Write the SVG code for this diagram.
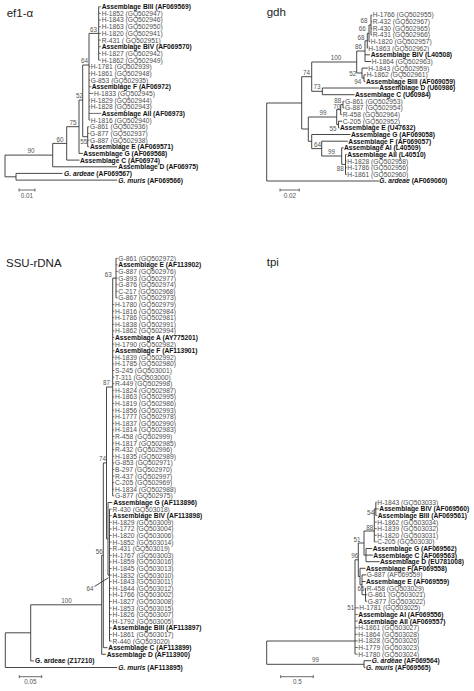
<svg xmlns="http://www.w3.org/2000/svg" width="474" height="691" viewBox="0 0 474 691">
<style>
text{font-family:"Liberation Sans",Arial,sans-serif;font-size:6.7px;fill:#4d4d4d}
.b{font-weight:bold;fill:#111}
.n{font-size:6.3px;fill:#555}
.e{text-anchor:end}
.m{text-anchor:middle}
.ttl{font-size:11.5px;fill:#222}
.c{fill:none;stroke:#333;stroke-width:0.9}
.k{fill:none;stroke:#444;stroke-width:0.8}
</style>
<rect width="474" height="691" fill="#fff"/>

<!-- ef1-alpha -->
<g id="ef1a">
<text id="t-ef1a" class="ttl" x="6.7" y="16.5">ef1-α</text>
<g id="ef1a-connectors">
<path class="c" d="M98.7,6.7V60.1M89,33.4H98.7M89,33.4V120.1M82.7,65H89M82.7,65V136.7M82.7,136.7H87.7M87.7,126.8V146.8M79,100H82.7M79,100V153.4M79,153.4H82.8M66.7,126.7H79M66.7,126.7V160.1M66.7,160.1H79.5M52.7,143.4H66.7M52.7,143.4V166.8M52.7,166.8H117M5,155.1H52.7M5,155.1V176.8M5,176.8H16M16,173.4V180.1M16,173.4H62.5M16,180.1H117"/>
<path class="k" d="M98.7,6.7H100.8M98.7,13.4H100.8M98.7,20H100.8M98.7,26.7H100.8M98.7,33.4H100.8M98.7,40.1H100.8M98.7,46.7H100.8M98.7,53.4H100.8M98.7,60.1H100.8M89,66.7H90.2M89,73.4H90.2M89,80.1H90.2M89,86.7H91.2M89,93.4H93.5M89,100.1H90.2M89,106.7H90.2M89,113.4H101M89,120.1H90.2M87.7,126.8H89.4M87.7,133.4H89.4M87.7,140.1H89.4M87.7,146.8H89.4"/>
<path class="k" d="M19,190H35M19,188.5V191.5M35,188.5V191.5"/>
</g>
<g id="ef1a-support">
<text class="n m" x="93.5" y="31.8">63</text>
<text class="n m" x="84.5" y="62.7">64</text>
<text class="n m" x="79.5" y="97.8">52</text>
<text class="n m" x="73" y="124.5">75</text>
<text class="n e" x="87.2" y="144">55</text>
<text class="n m" x="60" y="141.5">60</text>
<text class="n m" x="31" y="153">90</text>
<text class="n m" x="27" y="197.5">0.01</text>
</g>
<g id="ef1a-leaves">
<g id="e0"><text class="b" x="101.7" y="9.1">Assemblage BIII (AF069569)</text></g>
<g id="e1"><text x="101.7" y="15.8">H-1852 (GQ502947)</text></g>
<g id="e2"><text x="101.7" y="22.4">H-1843 (GQ502946)</text></g>
<g id="e3"><text x="101.7" y="29.1">H-1863 (GQ502950)</text></g>
<g id="e4"><text x="101.7" y="35.8">H-1820 (GQ502941)</text></g>
<g id="e5"><text x="101.7" y="42.5">R-431 ( GQ502951)</text></g>
<g id="e6"><text class="b" x="101.7" y="49.1">Assemblage BIV (AF069570)</text></g>
<g id="e7"><text x="101.7" y="55.8">H-1827 (GQ502942)</text></g>
<g id="e8"><text x="101.7" y="62.5">H-1862 (GQ502949)</text></g>
<g id="e9"><text x="90.7" y="69.1">H-1781 (GQ502939)</text></g>
<g id="e10"><text x="90.7" y="75.8">H-1861 (GQ502948)</text></g>
<g id="e11"><text x="90.7" y="82.5">G-853 (GQ502935)</text></g>
<g id="e12"><text class="b" x="91.7" y="89.1">Assemblage F (AF06972)</text></g>
<g id="e13"><text x="94" y="95.8">H-1833 (GQ502945)</text></g>
<g id="e14"><text x="90.7" y="102.5">H-1829 (GQ502944)</text></g>
<g id="e15"><text x="90.7" y="109.1">H-1828 (GQ502943)</text></g>
<g id="e16"><text class="b" x="101.7" y="115.8">Assemblage AII (AF06973)</text></g>
<g id="e17"><text x="90.7" y="122.5">H-1816 (GQ502940)</text></g>
<g id="e18"><text x="90" y="129.2">G-861 (GQ502936)</text></g>
<g id="e19"><text x="90" y="135.8">G-877 (GQ502937)</text></g>
<g id="e20"><text x="90" y="142.5">G-887 (GQ502938)</text></g>
<g id="e21"><text class="b" x="90" y="149.2">Assemblage E (AF069571)</text></g>
<g id="e22"><text class="b" x="83.3" y="155.8">Assemblage G (AF069568)</text></g>
<g id="e23"><text class="b" x="80" y="162.5">Assemblage C (AF06974)</text></g>
<g id="e24"><text class="b" x="118.3" y="169.2">Assemblage D (AF06975)</text></g>
<g id="e25"><text class="b" x="64" y="175.8"><tspan font-style="italic">G. ardeae</tspan> (AF069567)</text></g>
<g id="e26"><text class="b" x="118.3" y="182.5"><tspan font-style="italic">G. muris</tspan> (AF069566)</text></g>
</g>
</g>

<!-- gdh -->
<g id="gdh">
<text id="t-gdh" class="ttl" x="266.7" y="15.5">gdh</text>
<g id="gdh-connectors">
<path class="c" d="M371,15V34.9M369,25H371M369,25V41.6M367.3,33.3H369M367.3,33.3V48.2M365,40.8H367.3M365,40.8V61.5M365,54.8H370M365,61.5H371.2M356.7,51H365M356.7,51V73M356.7,73H362M362,68.1V78.1M362,68.1H367.8M362,78.1H364M364,74.8V81.4M311.7,62H356.7M311.7,62V91.3M311.7,91.3H322.3M322.3,88V94.7M322.3,88H378.8M322.3,94.7H354.5M301.7,76.7H311.7M301.7,76.7V129M266.7,103H301.7M266.7,103V181M266.7,181H378.8M301.7,129H308.3M308.3,117V141.3M308.3,117H336.7M336.7,109.6V124.5M336.7,109.6H340.7M340.7,104.6V114.6M340.7,104.6H343M343,101.3V108M336.7,124.5H338.5M338.5,121.2V127.9M338.5,121.2H342.2M308.3,141.3H311.7M311.7,134.5V148.6M311.7,134.5H350.5M311.7,148.6H321.7M321.7,141.2V156M321.7,141.2H347.8M321.7,156H341.7M341.7,147.8V164.4M341.7,147.8H343.5M341.7,164.4H345.5M345.5,154.4V174.4"/>
<path class="k" d="M371,15H372.2M371,21.6H372.2M371,28.3H372.2M371,34.9H372.2M369,41.6H370.2M367.3,48.2H367.9M364,74.8H366.2M364,81.4H365.5M340.7,114.6H342.2M343,101.3H344.5M343,108H344.5M338.5,127.9H339.5M345.5,154.4H346.8M345.5,161.1H346.8M345.5,167.7H346.8M345.5,174.4H346.8"/>
<path class="k" d="M280,190H299.3M280,188.5V191.5M299.3,188.5V191.5"/>
</g>
<g id="gdh-support">
<text class="n m" x="364" y="23.2">68</text>
<text class="n m" x="362.3" y="31">66</text>
<text class="n m" x="361" y="40">68</text>
<text class="n m" x="358.5" y="49.3">86</text>
<text class="n m" x="336" y="60">100</text>
<text class="n e" x="356.2" y="76">52</text>
<text class="n e" x="361.3" y="83.6">94</text>
<text class="n m" x="306.5" y="74.7">74</text>
<text class="n m" x="317" y="89.3">73</text>
<text class="n e" x="341.2" y="103">88</text>
<text class="n e" x="340.3" y="108.8">70</text>
<text class="n m" x="323" y="115">99</text>
<text class="n e" x="336.5" y="130.8">55</text>
<text class="n m" x="317.5" y="146.6">64</text>
<text class="n m" x="331.5" y="154">99</text>
<text class="n e" x="343.8" y="170.6">88</text>
<text class="n m" x="290" y="197.5">0.02</text>
</g>
<g id="gdh-leaves">
<g id="g0"><text x="372.7" y="17.4">H-1766 (GQ502955)</text></g>
<g id="g1"><text x="372.7" y="24">R-432 (GQ502967)</text></g>
<g id="g2"><text x="372.7" y="30.7">R-430 (GQ502965)</text></g>
<g id="g3"><text x="372.7" y="37.3">R-431 (GQ502966)</text></g>
<g id="g4"><text x="370.7" y="44">H-1820 (GQ502957)</text></g>
<g id="g5"><text x="368.3" y="50.6">H-1863 (GQ502962)</text></g>
<g id="g6"><text class="b" x="370.7" y="57.2">Assemblage BIV (L40508)</text></g>
<g id="g7"><text x="371.7" y="63.9">H-1864 (GQ502963)</text></g>
<g id="g8"><text x="368.3" y="70.5">H-1843 (GQ502959)</text></g>
<g id="g9"><text x="366.7" y="77.2">H-1862 (GQ502961)</text></g>
<g id="g10"><text class="b" x="366" y="83.8">Assemblage BIII (AF069059)</text></g>
<g id="g11"><text class="b" x="379.3" y="90.4">Assemblage D (U60986)</text></g>
<g id="g12"><text class="b" x="355" y="97.1">Assemblage C (U60984)</text></g>
<g id="g13"><text x="345" y="103.7">G-861 (GQ502953)</text></g>
<g id="g14"><text x="345" y="110.4">G-887 (GQ502954)</text></g>
<g id="g15"><text x="342.7" y="117">R-458 (GQ502964)</text></g>
<g id="g16"><text x="342.7" y="123.6">C-205 (GQ502952)</text></g>
<g id="g17"><text class="b" x="340" y="130.3">Assemblage E (U47632)</text></g>
<g id="g18"><text class="b" x="351" y="136.9">Assemblage G (AF069058)</text></g>
<g id="g19"><text class="b" x="348.3" y="143.6">Assemblage F (AF069057)</text></g>
<g id="g20"><text class="b" x="344" y="150.2">Assemblage AI (L40509)</text></g>
<g id="g21"><text class="b" x="347.3" y="156.8">Assemblage AII (L40510)</text></g>
<g id="g22"><text x="347.3" y="163.5">H-1828 (GQ502958)</text></g>
<g id="g23"><text x="347.3" y="170.1">H-1786 (GQ502956)</text></g>
<g id="g24"><text x="347.3" y="176.8">H-1861 (GQ502960)</text></g>
<g id="g25"><text class="b" x="379.3" y="183.4"><tspan font-style="italic">G. ardeae</tspan> (AF069060)</text></g>
</g>
</g>

<!-- SSU-rDNA -->
<g id="ssu">
<text id="t-ssu" class="ttl" x="6" y="266.5">SSU-rDNA</text>
<g id="ssu-connectors">
<path class="c" d="M116,258.3V297.9M112.7,278.1H116M112.7,278.1V495.9M106.5,387H112.7M106.5,387V538.8M106.5,538.8H108M108,502.5V575.1M108,502.5H112.3M108,575.1H109.5M109.5,509.1V641.1M103.3,462.9H106.5M103.3,462.9V647.7M103.3,647.7H107.5M101.7,555.3H103.3M101.7,555.3V654.3M101.7,654.3H105.8M30.7,604.8H101.7M30.7,604.8V660.9M30.7,660.9H33.8M5.3,632.8H30.7M5.3,632.8V667.5M5.3,667.5H117M94.5,586.5L108.6,577.6"/>
<path class="k" d="M116,258.3H117.6M116,264.9H117.6M116,271.5H117.6M116,278.1H117.6M116,284.7H117.6M116,291.3H117.6M116,297.9H117.6M112.7,304.5H114.3M112.7,311.1H114.3M112.7,317.7H114.3M112.7,324.3H114.3M112.7,330.9H114.3M112.7,337.5H114.3M112.7,344.1H114.3M112.7,350.7H114.3M112.7,357.3H114.3M112.7,363.9H114.3M112.7,370.5H114.3M112.7,377.1H114.3M112.7,383.7H114.3M112.7,390.3H114.3M112.7,396.9H114.3M112.7,403.5H114.3M112.7,410.1H114.3M112.7,416.7H114.3M112.7,423.3H114.3M112.7,429.9H114.3M112.7,436.5H114.3M112.7,443.1H114.3M112.7,449.7H114.3M112.7,456.3H114.3M112.7,462.9H114.3M112.7,469.5H114.3M112.7,476.1H114.3M112.7,482.7H114.3M112.7,489.3H114.3M112.7,495.9H114.3M109.5,509.1H111.6M109.5,515.7H111.6M109.5,522.3H111.6M109.5,528.9H111.6M109.5,535.5H111.6M109.5,542.1H111.6M109.5,548.7H111.6M109.5,555.3H111.6M109.5,561.9H111.6M109.5,568.5H111.6M109.5,575.1H111.6M109.5,581.7H111.6M109.5,588.3H111.6M109.5,594.9H111.6M109.5,601.5H111.6M109.5,608.1H111.6M109.5,614.7H111.6M109.5,621.3H111.6M109.5,627.9H111.6M109.5,634.5H111.6M109.5,641.1H111.6"/>
<path class="k" d="M19.3,676.7H41.7M19.3,675.2V678.2M41.7,675.2V678.2"/>
</g>
<g id="ssu-support">
<text class="n e" x="111.8" y="276.6">63</text>
<text class="n m" x="106.5" y="385.2">87</text>
<text class="n m" x="102.5" y="461">74</text>
<text class="n e" x="102.8" y="553.6">56</text>
<text class="n e" x="93.5" y="590.6">64</text>
<text class="n m" x="66.5" y="602.8">100</text>
<text class="n m" x="30.5" y="684.3">0.05</text>
</g>
<g id="ssu-leaves">
<g id="s0"><text x="118.3" y="260.7">G-861 (GQ502972)</text></g>
<g id="s1"><text class="b" x="118.3" y="267.3">Assemblage E (AF113902)</text></g>
<g id="s2"><text x="118.3" y="273.9">G-887 (GQ502976)</text></g>
<g id="s3"><text x="118.3" y="280.5">G-893 (GQ502977)</text></g>
<g id="s4"><text x="118.3" y="287.1">G-876 (GQ502974)</text></g>
<g id="s5"><text x="118.3" y="293.7">C-217 (GQ502968)</text></g>
<g id="s6"><text x="118.3" y="300.3">G-867 (GQ502973)</text></g>
<g id="s7"><text x="115" y="306.9">H-1780 (GQ502979)</text></g>
<g id="s8"><text x="115" y="313.5">H-1816 (GQ502984)</text></g>
<g id="s9"><text x="115" y="320.1">H-1786 (GQ502981)</text></g>
<g id="s10"><text x="115" y="326.7">H-1838 (GQ502991)</text></g>
<g id="s11"><text x="115" y="333.3">H-1862 (GQ502994)</text></g>
<g id="s12"><text class="b" x="115" y="339.9">Assemblage A (AY775201)</text></g>
<g id="s13"><text x="115" y="346.5">H-1790 (GQ502982)</text></g>
<g id="s14"><text class="b" x="115" y="353.1">Assemblage F (AF113901)</text></g>
<g id="s15"><text x="115" y="359.7">H-1839 (GQ502992)</text></g>
<g id="s16"><text x="115" y="366.3">H-1785 (GQ502980)</text></g>
<g id="s17"><text x="115" y="372.9">S-245 (GQ503001)</text></g>
<g id="s18"><text x="115" y="379.5">T-311 (GQ503000)</text></g>
<g id="s19"><text x="115" y="386.1">R-449 (GQ502998)</text></g>
<g id="s20"><text x="115" y="392.7">H-1824 (GQ502987)</text></g>
<g id="s21"><text x="115" y="399.3">H-1863 (GQ502995)</text></g>
<g id="s22"><text x="115" y="405.9">H-1819 (GQ502986)</text></g>
<g id="s23"><text x="115" y="412.5">H-1856 (GQ502993)</text></g>
<g id="s24"><text x="115" y="419.1">H-1777 (GQ502978)</text></g>
<g id="s25"><text x="115" y="425.7">H-1837 (GQ502990)</text></g>
<g id="s26"><text x="115" y="432.3">H-1814 (GQ502983)</text></g>
<g id="s27"><text x="115" y="438.9">R-458 (GQ502999)</text></g>
<g id="s28"><text x="115" y="445.5">H-1817 (GQ502985)</text></g>
<g id="s29"><text x="115" y="452.1">R-432 (GQ502996)</text></g>
<g id="s30"><text x="115" y="458.7">H-1835 (GQ502989)</text></g>
<g id="s31"><text x="115" y="465.3">G-853 (GQ502971)</text></g>
<g id="s32"><text x="115" y="471.9">B-297 (GQ502970)</text></g>
<g id="s33"><text x="115" y="478.5">R-437 (GQ502997)</text></g>
<g id="s34"><text x="115" y="485.1">C-205 (GQ502969)</text></g>
<g id="s35"><text x="115" y="491.7">H-1834 (GQ502988)</text></g>
<g id="s36"><text x="115" y="498.3">G-877 (GQ502975)</text></g>
<g id="s37"><text class="b" x="113.3" y="504.9">Assemblage G (AF113896)</text></g>
<g id="s38"><text x="112.6" y="511.5">R-430 (GQ503018)</text></g>
<g id="s39"><text class="b" x="112.6" y="518.1">Assemblage BIV (AF113898)</text></g>
<g id="s40"><text x="112.6" y="524.7">H-1829 (GQ503009)</text></g>
<g id="s41"><text x="112.6" y="531.3">H-1772 (GQ503004)</text></g>
<g id="s42"><text x="112.6" y="537.9">H-1820 (GQ503006)</text></g>
<g id="s43"><text x="112.6" y="544.5">H-1852 (GQ503014)</text></g>
<g id="s44"><text x="112.6" y="551.1">R-431 (GQ503019)</text></g>
<g id="s45"><text x="112.6" y="557.7">H-1767 (GQ503003)</text></g>
<g id="s46"><text x="112.6" y="564.3">H-1859 (GQ503016)</text></g>
<g id="s47"><text x="112.6" y="570.9">H-1845 (GQ503013)</text></g>
<g id="s48"><text x="112.6" y="577.5">H-1832 (GQ503010)</text></g>
<g id="s49"><text x="112.6" y="584.1">H-1843 (GQ503011)</text></g>
<g id="s50"><text x="112.6" y="590.7">H-1844 (GQ503012)</text></g>
<g id="s51"><text x="112.6" y="597.3">H-1766 (GQ503002)</text></g>
<g id="s52"><text x="112.6" y="603.9">H-1827 (GQ503008)</text></g>
<g id="s53"><text x="112.6" y="610.5">H-1853 (GQ503015)</text></g>
<g id="s54"><text x="112.6" y="617.1">H-1826 (GQ503007)</text></g>
<g id="s55"><text x="112.6" y="623.7">H-1792 (GQ503005)</text></g>
<g id="s56"><text class="b" x="112.6" y="630.3">Assemblage BIII (AF113897)</text></g>
<g id="s57"><text x="112.6" y="636.9">H-1861 (GQ503017)</text></g>
<g id="s58"><text x="112.6" y="643.5">R-440 (GQ503020)</text></g>
<g id="s59"><text class="b" x="108.3" y="650.1">Assemblage C (AF113899)</text></g>
<g id="s60"><text class="b" x="106.7" y="656.7">Assemblage D (AF113900)</text></g>
<g id="s61"><text class="b" x="35" y="663.3">G. ardeae (Z17210)</text></g>
<g id="s62"><text class="b" x="118.3" y="669.9"><tspan font-style="italic">G. muris</tspan> (AF113895)</text></g>
</g>
</g>

<!-- tpi -->
<g id="tpi">
<text id="t-tpi" class="ttl" x="266.7" y="266">tpi</text>
<g id="tpi-connectors">
<path class="c" d="M375.8,502.3V515.5M374.3,508.9H375.8M374.3,508.9V541.9M364,531H374.3M364,531V555.1M364,555.1H366M366,548.5V561.7M366,548.5H372.2M366,555.1H372.8M366,561.7H379.5M358.3,543H364M358.3,543V576.5M358.3,576.5H360M360,568.3V584.8M360,568.3H365.5M360,584.8H362M362,574.9V594.7M362,574.9H366.2M362,581.5H365.5M362,594.7H365.5M365.5,588.1V601.3M355,559.8H358.3M355,559.8V654.1M266.7,641H355M266.7,641V664.3M266.7,664.3H364M364,660.7V667.3M364,660.7H371.2M364,667.3H365.5"/>
<path class="k" d="M375.8,502.3H376.8M375.8,508.9H378.8M375.8,515.5H377.2M374.3,522.1H376.8M374.3,528.7H376.8M374.3,535.3H376.8M374.3,541.9H376.8M365.5,588.1H366.2M365.5,594.7H367.2M365.5,601.3H367.2M355,607.9H358.8M355,614.5H357.8M355,621.1H357.8M355,627.7H357.8M355,634.3H357.8M355,640.9H357.8M355,647.5H357.8M355,654.1H357.8"/>
<path class="k" d="M280.7,676.7H313.3M280.7,675.2V678.2M313.3,675.2V678.2"/>
</g>
<g id="tpi-support">
<text class="n e" x="374" y="514.5">54</text>
<text class="n e" x="373.2" y="530">88</text>
<text class="n e" x="360.5" y="541.5">51</text>
<text class="n e" x="358.3" y="558">96</text>
<text class="n e" x="364.5" y="590.5">65</text>
<text class="n e" x="354.3" y="609.6">51</text>
<text class="n m" x="315.5" y="661.5">99</text>
<text class="n m" x="297.3" y="684.3">0.5</text>
</g>
<g id="tpi-leaves">
<g id="p0"><text x="377.3" y="504.7">H-1843 (GQ503033)</text></g>
<g id="p1"><text class="b" x="379.3" y="511.3">Assemblage BIV (AF069560)</text></g>
<g id="p2"><text class="b" x="377.7" y="517.9">Assemblage BIII (AF069561)</text></g>
<g id="p3"><text x="377.3" y="524.5">H-1862 (GQ503034)</text></g>
<g id="p4"><text x="377.3" y="531.1">H-1839 (GQ503032)</text></g>
<g id="p5"><text x="377.3" y="537.7">H-1820 (GQ503031)</text></g>
<g id="p6"><text x="377.3" y="544.3">C-205 (GQ503030)</text></g>
<g id="p7"><text class="b" x="372.7" y="550.9">Assemblage G (AF069562)</text></g>
<g id="p8"><text class="b" x="373.3" y="557.5">Assemblage C (AF069563)</text></g>
<g id="p9"><text class="b" x="380" y="564.1">Assemblage D (EU781008)</text></g>
<g id="p10"><text class="b" x="366" y="570.7">Assemblage F(AF069558)</text></g>
<g id="p11"><text x="366.7" y="577.3">G-887 (AF069559)</text></g>
<g id="p12"><text class="b" x="366" y="583.9">Assemblage E (AF069559)</text></g>
<g id="p13"><text x="366.7" y="590.5">R-458 (GQ503029)</text></g>
<g id="p14"><text x="367.7" y="597.1">G-861 (GQ503021)</text></g>
<g id="p15"><text x="367.7" y="603.7">G-877 (GQ503022)</text></g>
<g id="p16"><text x="359.3" y="610.3">H-1781 (GQ503025)</text></g>
<g id="p17"><text class="b" x="358.3" y="616.9">Assemblage AI (AF069556)</text></g>
<g id="p18"><text class="b" x="358.3" y="623.5">Assemblage AII (AF069557)</text></g>
<g id="p19"><text x="358.3" y="630.1">H-1861 (GQ503027)</text></g>
<g id="p20"><text x="358.3" y="636.7">H-1864 (GQ503028)</text></g>
<g id="p21"><text x="358.3" y="643.3">H-1828 (GQ503026)</text></g>
<g id="p22"><text x="358.3" y="649.9">H-1779 (GQ503023)</text></g>
<g id="p23"><text x="358.3" y="656.5">H-1780 (GQ503024)</text></g>
<g id="p24"><text class="b" x="371.7" y="663.1"><tspan font-style="italic">G. ardeae</tspan> (AF069564)</text></g>
<g id="p25"><text class="b" x="366" y="669.7"><tspan font-style="italic">G. muris</tspan> (AF069565)</text></g>
</g>
</g>
</svg>
